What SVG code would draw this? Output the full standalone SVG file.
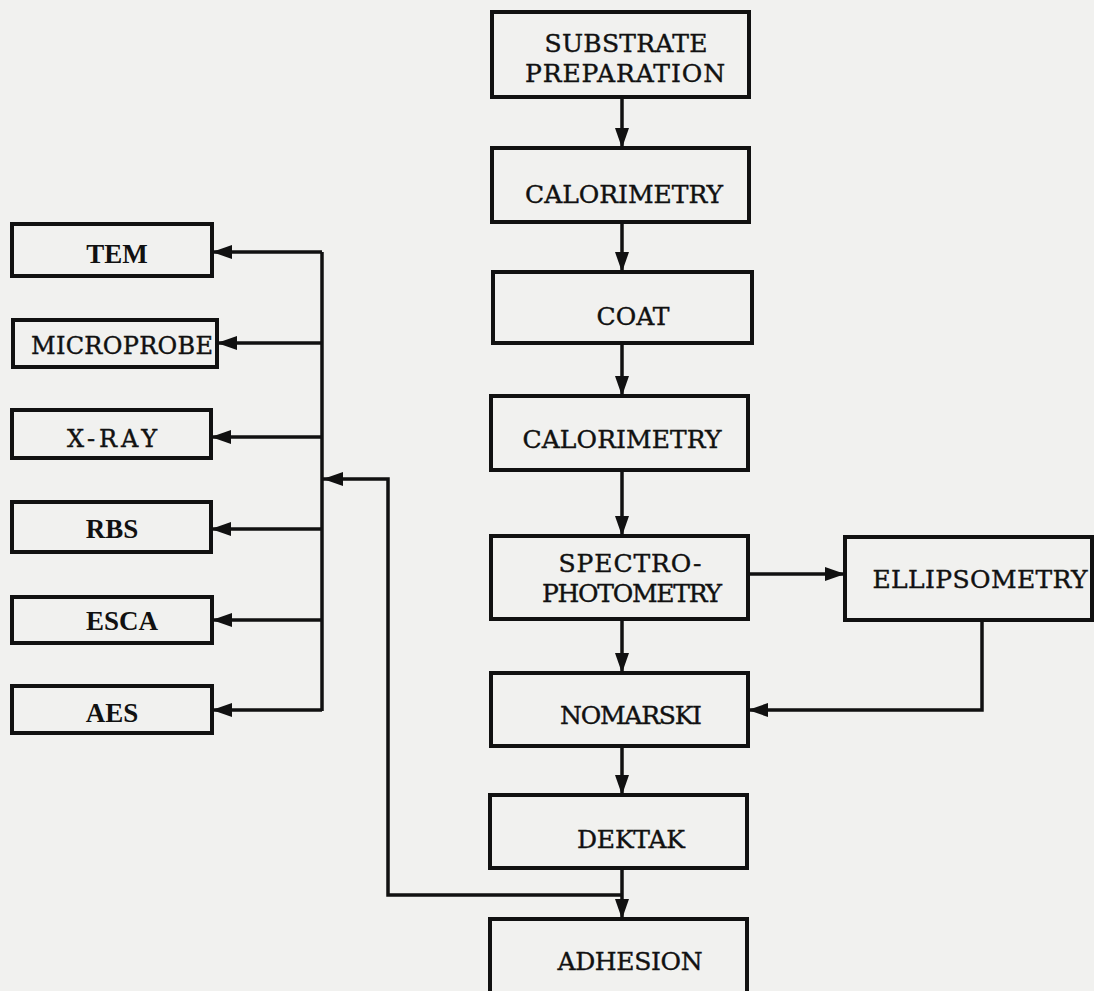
<svg xmlns="http://www.w3.org/2000/svg" width="1094" height="991" viewBox="0 0 1094 991">
<defs>
<marker id="ah" markerWidth="20" markerHeight="14" refX="20" refY="7" orient="auto" markerUnits="userSpaceOnUse"><path d="M0,0 L20,7 L0,14 z" fill="#111"/></marker>
<style>
.box{fill:none;stroke:#111;stroke-width:4}
.t{font-family:"DejaVu Serif","Liberation Serif",serif;font-size:25px;fill:#111;text-anchor:middle;stroke:#111;stroke-width:0.4}
.s{font-family:"Liberation Serif","Times New Roman",serif;font-size:27px;font-weight:bold;fill:#111;text-anchor:middle}
.c{fill:none;stroke:#111;stroke-width:3.5}
.a{marker-end:url(#ah)}
</style>
</defs>
<rect width="1094" height="991" fill="#f1f1ef"/>
<g id="substrate"><rect class="box" x="492" y="12" width="257" height="85"/><text class="t" x="626" y="52" textLength="163">SUBSTRATE</text><text class="t" x="625" y="82" textLength="200">PREPARATION</text></g>
<g id="calorimetry1"><rect class="box" x="492" y="148" width="257" height="74"/><text class="t" x="624" y="203" textLength="198">CALORIMETRY</text></g>
<g id="coat"><rect class="box" x="493" y="272" width="259" height="71"/><text class="t" x="633" y="325" textLength="73">COAT</text></g>
<g id="calorimetry2"><rect class="box" x="491" y="396" width="257" height="74"/><text class="t" x="622" y="448" textLength="199">CALORIMETRY</text></g>
<g id="spectro"><rect class="box" x="491" y="536" width="257" height="83"/><text class="t" x="630" y="572" textLength="143">SPECTRO-</text><text class="t" x="632" y="602" textLength="180">PHOTOMETRY</text></g>
<g id="ellipsometry"><rect class="box" x="845" y="537" width="247" height="83"/><text class="t" x="980" y="588" textLength="215">ELLIPSOMETRY</text></g>
<g id="nomarski"><rect class="box" x="491" y="673" width="257" height="73"/><text class="t" x="631" y="724" textLength="142">NOMARSKI</text></g>
<g id="dektak"><rect class="box" x="490" y="795" width="257" height="73"/><text class="t" x="631" y="848" textLength="108">DEKTAK</text></g>
<g id="adhesion"><rect class="box" x="490" y="919" width="257" height="80"/><text class="t" x="630" y="970" textLength="145">ADHESION</text></g>
<g id="tem"><rect class="box" x="12" y="224" width="200" height="52"/><text class="s" x="117" y="263">TEM</text></g>
<g id="microprobe"><rect class="box" x="13" y="320" width="204" height="47"/><text class="t" x="122" y="354" textLength="182" style="font-size:24px">MICROPROBE</text></g>
<g id="xray"><rect class="box" x="12" y="410" width="199" height="48"/><text class="t" x="112" y="447" textLength="90" style="font-size:24px">X-RAY</text></g>
<g id="rbs"><rect class="box" x="12" y="502" width="199" height="50"/><text class="s" x="112" y="538">RBS</text></g>
<g id="esca"><rect class="box" x="12" y="597" width="200" height="46"/><text class="s" x="122" y="630">ESCA</text></g>
<g id="aes"><rect class="box" x="12" y="686" width="200" height="47"/><text class="s" x="112" y="722">AES</text></g>
<g id="connectors">
<line class="c a" x1="622" y1="97" x2="622" y2="148"/>
<line class="c a" x1="622" y1="222" x2="622" y2="272"/>
<line class="c a" x1="622" y1="343" x2="622" y2="396"/>
<line class="c a" x1="622" y1="470" x2="622" y2="536"/>
<line class="c a" x1="748" y1="574" x2="845" y2="574"/>
<line class="c a" x1="622" y1="619" x2="622" y2="673"/>
<path class="c a" d="M982,620 V710 H748"/>
<line class="c a" x1="622" y1="746" x2="622" y2="795"/>
<line class="c a" x1="622" y1="868" x2="622" y2="919"/>
<path class="c a" d="M622,895 H388 V479 H323"/>
<line class="c" x1="322" y1="252" x2="322" y2="711"/>
<line class="c a" x1="322" y1="252" x2="212" y2="252"/>
<line class="c a" x1="322" y1="343" x2="217" y2="343"/>
<line class="c a" x1="322" y1="437" x2="211" y2="437"/>
<line class="c a" x1="322" y1="529" x2="211" y2="529"/>
<line class="c a" x1="322" y1="620" x2="212" y2="620"/>
<line class="c a" x1="322" y1="710" x2="212" y2="710"/>
</g>
</svg>
